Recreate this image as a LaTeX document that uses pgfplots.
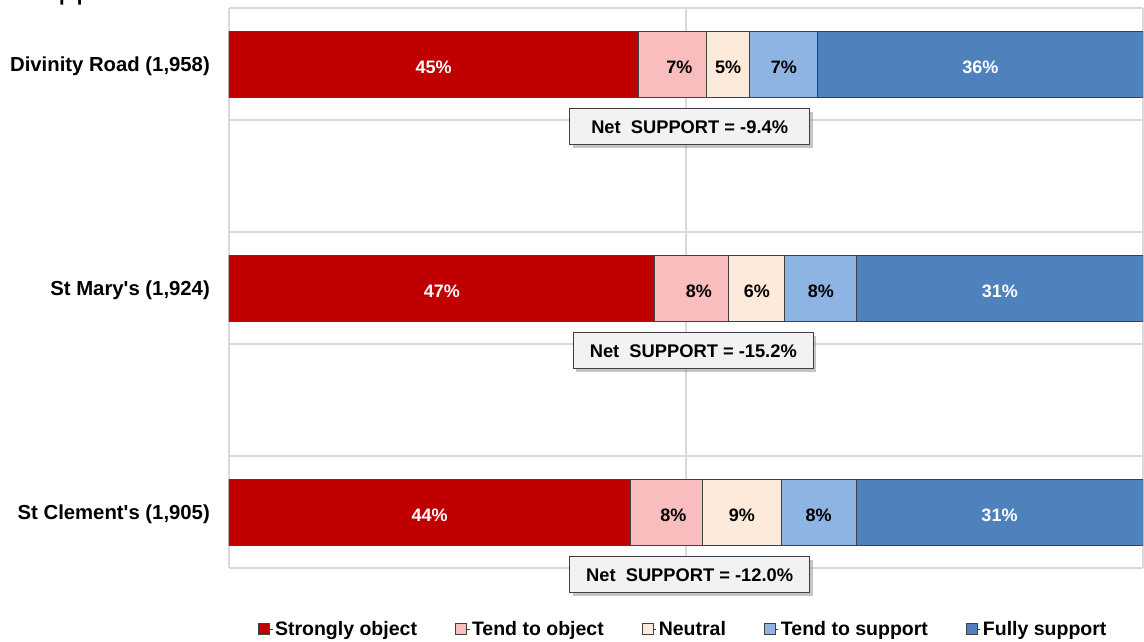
\documentclass[border=0pt]{standalone}
\usepackage{pgfplots}
\usepackage{pgfplotstable}
\pgfplotsset{compat=1.18}
\usepackage{fontspec}
\setmainfont{Liberation Sans}
\usetikzlibrary{shadows}
\definecolor{cSO}{HTML}{C00000}
\definecolor{cTO}{HTML}{F9BDBD}
\definecolor{cNE}{HTML}{FDEADA}
\definecolor{cTS}{HTML}{8EB4E3}
\definecolor{cFS}{HTML}{4F81BD}
\definecolor{gridc}{HTML}{D9D9D9}
\definecolor{boxc}{HTML}{F2F2F2}
\definecolor{edgec}{HTML}{404040}
\pgfplotstableread{
y so to ne ts fs
0 44.8 7.4 4.8 7.4 35.6
2 46.6 8.1 6.1 7.9 31.3
4 43.9 7.9 8.6 8.2 31.4
}\data
% label positions: middle of each stacked segment, derived from the data
\pgfplotstablecreatecol[expr={\thisrow{so}/2}]{m1}\data
\pgfplotstablecreatecol[expr={\thisrow{so}+\thisrow{to}/2}]{m2}\data
\pgfplotstablecreatecol[expr={\thisrow{so}+\thisrow{to}+\thisrow{ne}/2}]{m3}\data
\pgfplotstablecreatecol[expr={\thisrow{so}+\thisrow{to}+\thisrow{ne}+\thisrow{ts}/2}]{m4}\data
\pgfplotstablecreatecol[expr={\thisrow{so}+\thisrow{to}+\thisrow{ne}+\thisrow{ts}+\thisrow{fs}/2}]{m5}\data
\pgfplotsset{
  frame/.style={at={(229pt,73pt)}, anchor=south west,
    scale only axis, width=914pt, height=560pt,
    xmin=0, xmax=100, ymin=-0.5, ymax=4.5, y dir=reverse},
}
\begin{document}
\begin{tikzpicture}
\useasboundingbox (0,0) rectangle (1144pt,641pt);
\node[anchor=base west, font=\fontsize{32}{32}\selectfont, inner sep=0pt] at (19pt,642pt) {Support};
\begin{axis}[
  frame,
  xbar stacked, bar width=66pt,
  axis line style={draw=none},
  tick style={draw=none},
  major tick length=0pt, minor tick length=0pt,
  xtick={0,50,100}, xticklabels={}, xmajorgrids,
  ytick={0,2,4},
  yticklabels={{Divinity Road (1,958)},{St Mary\textquotesingle s (1,924)},{St Clement\textquotesingle s (1,905)}},
  minor ytick={-0.5,0.5,1.5,2.5,3.5,4.5}, yminorgrids,
  major grid style={draw=gridc, line width=1.3pt},
  minor grid style={draw=gridc, line width=1.3pt},
  yticklabel style={font=\bfseries\fontsize{20.3}{23}\selectfont, inner sep=0pt, xshift=-19pt, yshift=-2pt, anchor=east},
  legend columns=5,
  legend style={at={(0.497,-0.109)}, anchor=center, draw=none, fill=none,
    font=\bfseries\fontsize{19.5}{22}\selectfont,
    /tikz/every even column/.append style={column sep=36pt}},
  legend image code/.code={\path (0pt,0pt) -- (14pt,0pt);\draw[#1, draw=edgec, line width=0.9pt] (0pt,-5.5pt) rectangle (11pt,5.5pt);},
]
\addplot[fill=cSO, draw=edgec, line width=1pt] table[x=so, y=y] {\data};
\addplot[fill=cTO, draw=edgec, line width=1pt] table[x=to, y=y] {\data};
\addplot[fill=cNE, draw=edgec, line width=1pt] table[x=ne, y=y] {\data};
\addplot[fill=cTS, draw=edgec, line width=1pt] table[x=ts, y=y] {\data};
\addplot[fill=cFS, draw=edgec, line width=1pt] table[x=fs, y=y] {\data};
\legend{Strongly object, Tend to object, Neutral, Tend to support, Fully support}
\end{axis}
\begin{axis}[
  frame, hide axis, clip=false,
  point meta=explicit,
  nodes near coords={\pgfmathprintnumber[fixed,precision=0,assume math mode=true]{\pgfplotspointmeta}\%},
  every node near coord/.append style={anchor=center, yshift=-3.5pt, font=\bfseries\fontsize{18}{20}\selectfont},
]
\addplot[only marks, mark=none, every node near coord/.append style={text=white}] table[x=m1, y=y, meta=so] {\data};
\addplot[only marks, mark=none, every node near coord/.append style={text=black, xshift=7pt}] table[x=m2, y=y, meta=to] {\data};
\addplot[only marks, mark=none, every node near coord/.append style={text=black}] table[x=m3, y=y, meta=ne] {\data};
\addplot[only marks, mark=none, every node near coord/.append style={text=black}] table[x=m4, y=y, meta=ts] {\data};
\addplot[only marks, mark=none, every node near coord/.append style={text=white}] table[x=m5, y=y, meta=fs] {\data};
\tikzset{netbox/.style={fill=boxc, draw=edgec, line width=1pt, minimum width=240pt, minimum height=36pt,
  font=\bfseries\fontsize{18.3}{20}\selectfont,
  drop shadow={shadow xshift=3pt, shadow yshift=-3pt, fill=black!45, opacity=0.5}}}
\node[netbox] at (axis cs:50.4,0.56) {Net\ \ SUPPORT = -9.4\%};
\node[netbox] at (axis cs:50.8,2.56) {Net\ \ SUPPORT = -15.2\%};
\node[netbox] at (axis cs:50.4,4.56) {Net\ \ SUPPORT = -12.0\%};
\end{axis}
\end{tikzpicture}
\end{document}
